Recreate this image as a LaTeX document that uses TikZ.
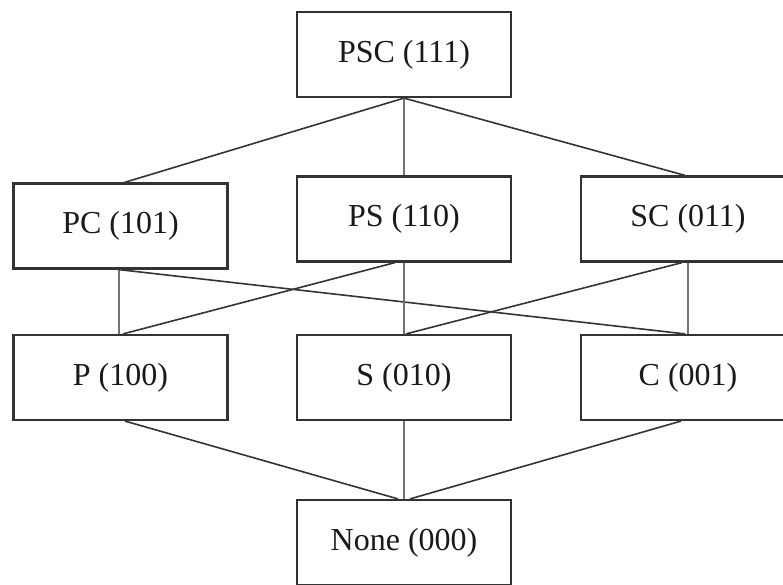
\documentclass[tikz,border=0pt]{standalone}
\usepackage{fontspec}
\setmainfont{Liberation Serif}
\begin{document}
\begin{tikzpicture}[x=1pt,y=-1pt,
  state/.style={draw=black!80, line width=2.2pt, fill=white,
    minimum width=214pt, minimum height=85pt, inner sep=0pt,
    font=\fontsize{32}{36}\selectfont, text=black!90},
  link/.style={draw=black!80, line width=1.6pt},
  vlink/.style={draw=black!55, line width=1.3pt}]
\useasboundingbox (0,0) rectangle (783,585);

% lattice levels
\node[state] (psc)  at (404,54.5)  {PSC (111)};
\node[state] (pc)   at (120.5,226) {PC (101)};
\node[state] (ps)   at (404,219)   {PS (110)};
\node[state] (sc)   at (688,219)   {SC (011)};
\node[state] (p)    at (120.5,377.5) {P (100)};
\node[state] (s)    at (404,377.5) {S (010)};
\node[state] (c)    at (688,377.5) {C (001)};
\node[state] (none) at (404,542.5) {None (000)};

% top to second level
\draw[link]  (psc.south) -- ([xshift=4pt]pc.north);
\draw[vlink] (psc.south) -- (ps.north);
\draw[link]  (psc.south) -- ([xshift=-3pt]sc.north);

% second to third level
\draw[vlink] ([xshift=-1.5pt]pc.south) -- ([xshift=-1.5pt]p.north);
\draw[link]  ([xshift=-1.5pt]pc.south) -- ([xshift=-3pt]c.north);
\draw[link]  ([xshift=-9pt]ps.south) -- ([xshift=2.5pt]p.north);
\draw[vlink] (ps.south) -- (s.north);
\draw[link]  ([xshift=-6pt]sc.south) -- ([xshift=2pt]s.north);
\draw[vlink] (sc.south) -- (c.north);

% third level to bottom
\draw[link]  ([xshift=4.5pt]p.south) -- ([xshift=-6pt]none.north);
\draw[vlink] (s.south) -- (none.north);
\draw[link]  ([xshift=-7pt]c.south) -- ([xshift=6pt]none.north);
\end{tikzpicture}
\end{document}
